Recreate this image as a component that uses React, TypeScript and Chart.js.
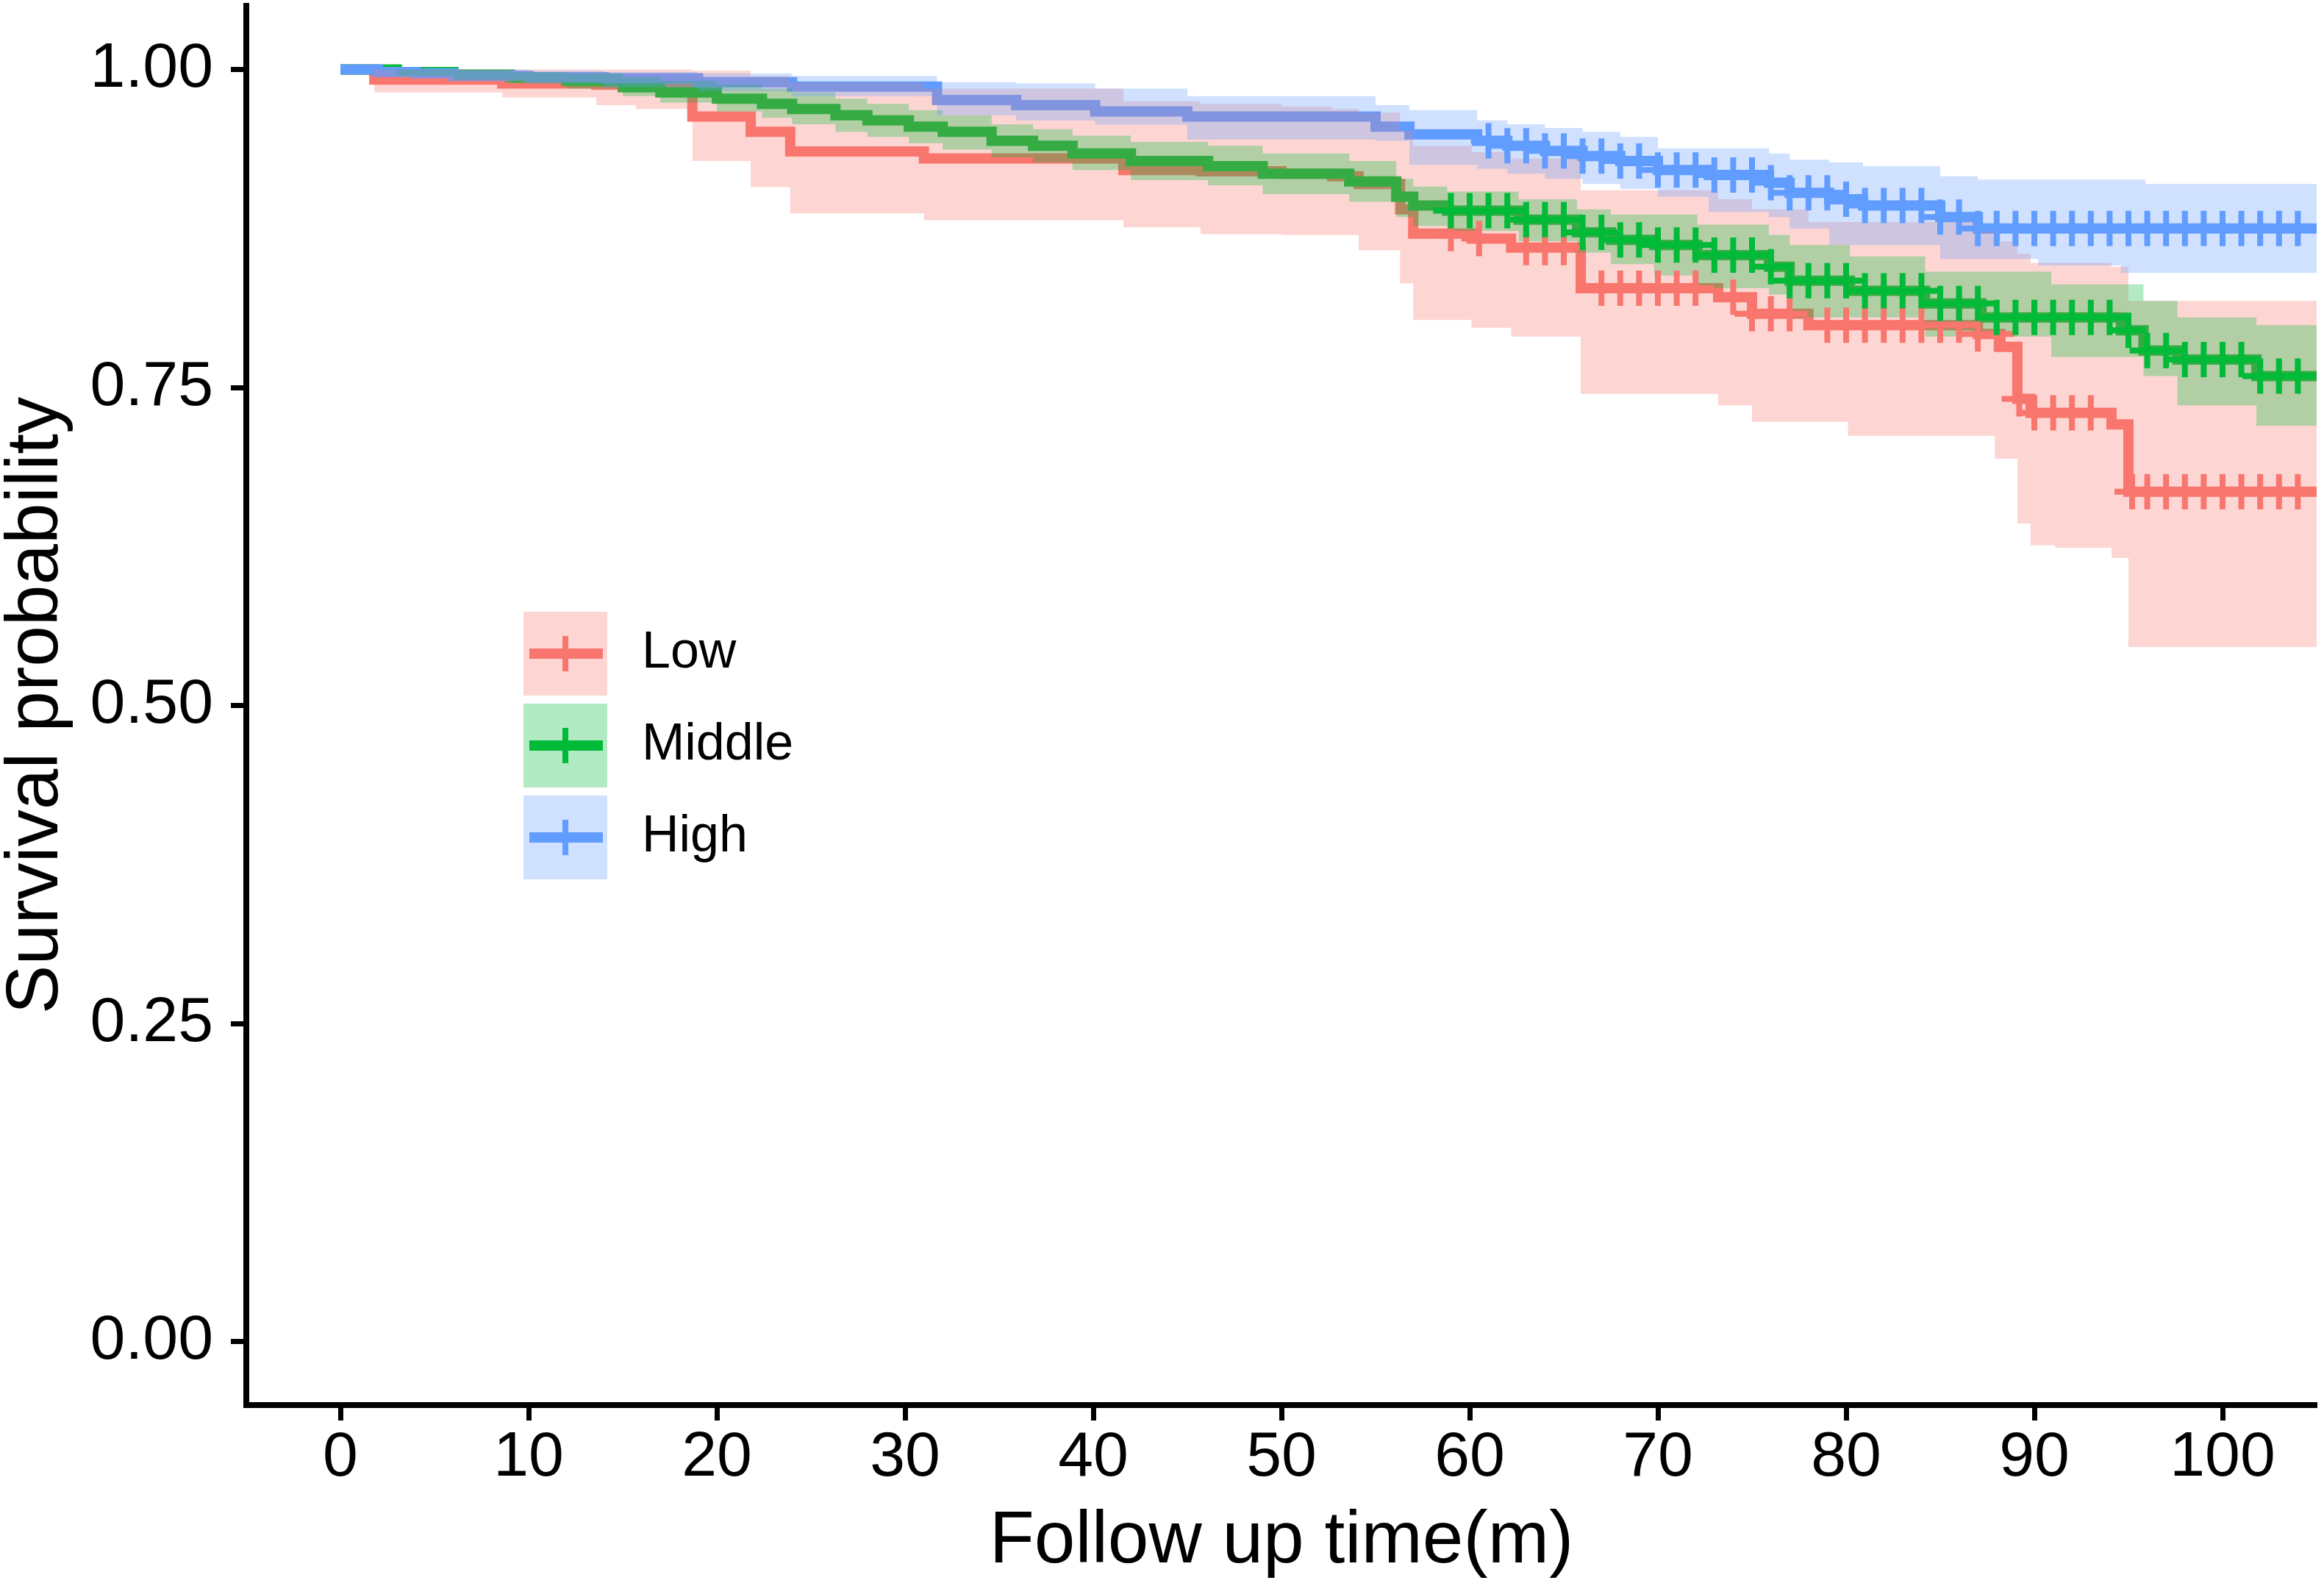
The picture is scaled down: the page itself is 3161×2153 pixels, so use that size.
import React, { useEffect, useRef } from 'react';
import { Chart, registerables } from 'chart.js';

Chart.register(...registerables);

const FONT = '"Liberation Sans", Arial, Helvetica, sans-serif';

const groups = ['Low', 'Middle', 'High'];
const lineColors = ['#F8766D', '#00BA38', '#619CFF'];
const bandColors = ['rgba(248,118,109,0.3)', 'rgba(0,186,56,0.3)', 'rgba(97,156,255,0.3)'];

const xTicks = [0, 10, 20, 30, 40, 50, 60, 70, 80, 90, 100];
const yTicks = [0, 0.25, 0.5, 0.75, 1];
const yTickLabels = ['0.00', '0.25', '0.50', '0.75', '1.00'];

// Low group
const lowTime = [0, 1.8, 8.6, 13.6, 15.7, 18.7, 21.8, 23.9, 31.0, 41.6, 45.7, 50, 52.7, 54.1, 56.3, 57.0, 60.1, 62.2, 65.9, 73.2, 75.0, 78.0, 80.1, 87.0, 87.9, 88.2, 89.1, 89.8, 91.1, 94.1, 95.0, 105];
const lowSurv = [1, 0.992, 0.989, 0.988, 0.987, 0.963, 0.951, 0.9355, 0.93, 0.921, 0.92, 0.918, 0.916, 0.91, 0.89, 0.871, 0.867, 0.86, 0.828, 0.821, 0.808, 0.799, 0.799, 0.792, 0.792, 0.782, 0.741, 0.73, 0.73, 0.721, 0.668, 0.668];
const lowUpper = [1, 1, 1, 1, 1, 0.999, 0.995, 0.99, 0.985, 0.975, 0.973, 0.971, 0.969, 0.966, 0.952, 0.94, 0.935, 0.93, 0.905, 0.898, 0.89, 0.88, 0.88, 0.873, 0.873, 0.865, 0.855, 0.848, 0.848, 0.845, 0.818, 0.818];
const lowLower = [1, 0.982, 0.978, 0.972, 0.969, 0.928, 0.9075, 0.887, 0.8815, 0.876, 0.8705, 0.87, 0.87, 0.858, 0.832, 0.803, 0.797, 0.79, 0.745, 0.736, 0.723, 0.723, 0.712, 0.712, 0.694, 0.694, 0.643, 0.626, 0.624, 0.616, 0.546, 0.546];
const lowCensor = [59, 60.5, 63, 64, 65, 67, 68, 69, 70, 71, 72, 74, 75, 76, 77, 79, 80, 81, 82, 83, 84, 85, 86, 87, 88, 89.2, 90, 91, 92, 93, 95.2, 96, 97, 98, 99, 100, 101, 102, 103, 104];

// Middle group
const midTime = [0, 3, 6, 9, 12, 15, 17, 20, 22.4, 24, 26.3, 28, 30.2, 32, 34.6, 36.8, 38.9, 42, 46.1, 49, 53.6, 56.1, 57, 58.8, 62.6, 65.7, 67.5, 69.8, 72.1, 75.9, 77, 80.2, 84.2, 87.2, 90.9, 94.6, 95.8, 97.6, 101.8, 105];
const midSurv = [1, 0.998, 0.996, 0.994, 0.991, 0.986, 0.982, 0.977, 0.973, 0.969, 0.964, 0.96, 0.955, 0.951, 0.944, 0.94, 0.934, 0.928, 0.924, 0.918, 0.912, 0.9, 0.893, 0.889, 0.882, 0.872, 0.866, 0.862, 0.854, 0.845, 0.834, 0.826, 0.816, 0.805, 0.805, 0.795, 0.779, 0.772, 0.759, 0.759];
const midUpper = [1, 1, 0.999, 0.998, 0.997, 0.994, 0.991, 0.988, 0.985, 0.982, 0.977, 0.973, 0.968, 0.964, 0.957, 0.953, 0.948, 0.943, 0.94, 0.934, 0.928, 0.914, 0.908, 0.904, 0.898, 0.89, 0.886, 0.886, 0.878, 0.87, 0.862, 0.853, 0.841, 0.841, 0.831, 0.831, 0.818, 0.805, 0.799, 0.799];
const midLower = [1, 0.995, 0.992, 0.989, 0.985, 0.979, 0.974, 0.967, 0.962, 0.957, 0.951, 0.947, 0.942, 0.937, 0.931, 0.927, 0.921, 0.913, 0.909, 0.902, 0.896, 0.884, 0.877, 0.873, 0.865, 0.856, 0.847, 0.838, 0.828, 0.823, 0.805, 0.805, 0.79, 0.79, 0.774, 0.774, 0.759, 0.736, 0.72, 0.72];
const midCensor = [59, 60, 61, 62, 63, 64, 65, 66, 67, 68, 69, 70, 71, 72, 73, 74, 75, 76, 77, 78, 79, 80, 81, 82, 83, 84, 85, 86, 87, 88, 89, 90, 91, 92, 93, 94, 95, 96, 97, 98, 99, 100, 101, 102, 103, 104];

// High group
const highTime = [0, 2, 4, 6, 10, 14, 19, 24, 31.7, 35.9, 40.1, 45, 55, 56.8, 60.4, 62, 64, 66, 68, 70, 72.7, 75.9, 77, 79.1, 80.9, 85, 87, 90.2, 94.6, 95.9, 105];
const highSurv = [1, 0.998, 0.997, 0.995, 0.994, 0.993, 0.99, 0.9865, 0.976, 0.972, 0.967, 0.963, 0.955, 0.949, 0.944, 0.94, 0.936, 0.932, 0.928, 0.921, 0.917, 0.911, 0.903, 0.898, 0.893, 0.884, 0.875, 0.875, 0.875, 0.875, 0.875];
const highUpper = [1, 1, 1, 1, 0.999, 0.998, 0.997, 0.995, 0.99, 0.989, 0.985, 0.979, 0.972, 0.968, 0.96, 0.957, 0.954, 0.951, 0.947, 0.938, 0.938, 0.934, 0.929, 0.927, 0.924, 0.916, 0.9135, 0.9135, 0.9135, 0.91, 0.91];
const highLower = [1, 0.995, 0.994, 0.992, 0.989, 0.986, 0.983, 0.979, 0.964, 0.96, 0.9566, 0.945, 0.944, 0.925, 0.922, 0.918, 0.914, 0.91, 0.906, 0.9, 0.888, 0.884, 0.875, 0.862, 0.862, 0.851, 0.851, 0.846, 0.84, 0.84, 0.84];
const highCensor = [61, 62, 63, 64, 65, 66, 67, 68, 69, 70, 71, 72, 73, 74, 75, 76, 77, 78, 79, 80, 81, 82, 83, 84, 85, 86, 87, 88, 89, 90, 91, 92, 93, 94, 95, 96, 97, 98, 99, 100, 101, 102, 103, 104];

const series = [
  { time: lowTime, surv: lowSurv, upper: lowUpper, lower: lowLower, censor: lowCensor },
  { time: midTime, surv: midSurv, upper: midUpper, lower: midLower, censor: midCensor },
  { time: highTime, surv: highSurv, upper: highUpper, lower: highLower, censor: highCensor },
];

function toPoints(time: number[], vals: number[]) {
  return time.map((t, i) => ({ x: t, y: vals[i] }));
}

function survAt(time: number[], surv: number[], t: number) {
  let v = surv[0];
  for (let i = 0; i < time.length; i++) {
    if (time[i] <= t) v = surv[i];
  }
  return v;
}

const legendPlugin = {
  id: 'kmLegend',
  afterDraw(chart: any) {
    const ctx = chart.ctx as CanvasRenderingContext2D;
    groups.forEach((g, i) => {
      const x = 712;
      const y = 832 + 125 * i;
      const size = 114;
      const cx = x + size / 2;
      const cy = y + size / 2;
      ctx.save();
      ctx.fillStyle = bandColors[i];
      ctx.fillRect(x, y, size, size);
      ctx.strokeStyle = lineColors[i];
      ctx.lineCap = 'butt';
      ctx.lineWidth = 14;
      ctx.beginPath();
      ctx.moveTo(x + 8, cy);
      ctx.lineTo(x + size - 6, cy);
      ctx.stroke();
      ctx.lineWidth = 8;
      ctx.beginPath();
      ctx.moveTo(cx, cy - 24);
      ctx.lineTo(cx, cy + 24);
      ctx.stroke();
      ctx.fillStyle = '#000';
      ctx.font = `70px ${FONT}`;
      ctx.textBaseline = 'middle';
      ctx.textAlign = 'left';
      ctx.fillText(g, 873, cy);
      ctx.restore();
    });
  },
};

export default function App() {
  const ref = useRef<HTMLCanvasElement>(null);

  useEffect(() => {
    const canvas = ref.current;
    if (!canvas) return;

    const censorSets: any[] = [];
    const bandSets: any[] = [];
    const lineSets: any[] = [];
    // index 0 is drawn last (on top); order High, Middle, Low so High lies on top
    for (let gi = 2; gi >= 0; gi--) {
      const s = series[gi];
      censorSets.push({
        label: groups[gi] + ' censor',
        data: s.censor.map((t) => ({ x: t, y: survAt(s.time, s.surv, t) })),
        showLine: false,
        pointStyle: 'cross',
        pointRadius: 24,
        pointBorderWidth: 8,
        pointBorderColor: lineColors[gi],
        pointBackgroundColor: lineColors[gi],
        borderColor: lineColors[gi],
        fill: false,
      });
      bandSets.push({
        label: groups[gi] + ' upper',
        data: toPoints(s.time, s.upper),
        stepped: true,
        borderWidth: 0,
        borderColor: 'transparent',
        pointRadius: 0,
        backgroundColor: bandColors[gi],
        fill: '+1',
      });
      bandSets.push({
        label: groups[gi] + ' lower',
        data: toPoints(s.time, s.lower),
        stepped: true,
        borderWidth: 0,
        borderColor: 'transparent',
        pointRadius: 0,
        fill: false,
      });
      lineSets.push({
        label: groups[gi],
        data: toPoints(s.time, s.surv),
        stepped: true,
        borderWidth: 14,
        borderColor: lineColors[gi],
        borderCapStyle: 'butt',
        borderJoinStyle: 'miter',
        pointRadius: 0,
        fill: false,
      });
    }

    const tickFont = { family: FONT, size: 86, lineHeight: 1 };
    const titleFont = { family: FONT, size: 100, lineHeight: 1 };

    const chart = new Chart(canvas, {
      type: 'line',
      data: { datasets: [...censorSets, ...bandSets, ...lineSets] },
      options: {
        animation: false,
        responsive: false,
        devicePixelRatio: 1,
        events: [],
        layout: { autoPadding: false, padding: { top: 8, right: 10, left: 0, bottom: 0 } },
        plugins: {
          legend: { display: false },
          tooltip: { enabled: false },
          filler: { drawTime: 'beforeDatasetDraw' },
        },
        scales: {
          x: {
            type: 'linear',
            min: -5,
            max: 105,
            afterBuildTicks: (scale: any) => {
              scale.ticks = xTicks.map((v) => ({ value: v }));
            },
            afterFit: (scale: any) => {
              scale.height = 242;
              scale.paddingLeft = 0;
              scale.paddingRight = 0;
            },
            ticks: {
              font: tickFont,
              color: '#000',
              padding: 8,
              maxRotation: 0,
              autoSkip: false,
              callback: (v: any) => String(v),
            },
            grid: {
              display: true,
              drawOnChartArea: false,
              drawTicks: true,
              tickLength: 21,
              tickWidth: 7,
              tickColor: '#000',
            },
            border: { display: true, width: 8, color: '#000' },
            title: {
              display: true,
              text: 'Follow up time(m)',
              font: titleFont,
              color: '#000',
              padding: { top: 0, bottom: 6 },
            },
          },
          y: {
            type: 'linear',
            min: -0.05,
            max: 1.05,
            afterBuildTicks: (scale: any) => {
              scale.ticks = yTicks.map((v) => ({ value: v }));
            },
            afterFit: (scale: any) => {
              scale.width = 335;
              scale.paddingTop = 0;
              scale.paddingBottom = 0;
            },
            ticks: {
              font: tickFont,
              color: '#000',
              padding: 24,
              autoSkip: false,
              callback: (v: any) => {
                const k = yTicks.findIndex((t) => Math.abs(t - Number(v)) < 1e-9);
                return k >= 0 ? yTickLabels[k] : '';
              },
            },
            grid: {
              display: true,
              drawOnChartArea: false,
              drawTicks: true,
              tickLength: 21,
              tickWidth: 7,
              tickColor: '#000',
            },
            border: { display: true, width: 8, color: '#000' },
            title: {
              display: true,
              text: 'Survival probability',
              font: titleFont,
              color: '#000',
              padding: { top: 0, bottom: 0 },
            },
          },
        },
      },
      plugins: [legendPlugin],
    } as any);

    return () => chart.destroy();
  }, []);

  return (
    <div style={{ position: 'fixed', left: 0, top: 0, width: 3161, height: 2153, background: '#fff' }}>
      <canvas ref={ref} width={3161} height={2153} style={{ width: 3161, height: 2153, display: 'block' }} />
    </div>
  );
}
